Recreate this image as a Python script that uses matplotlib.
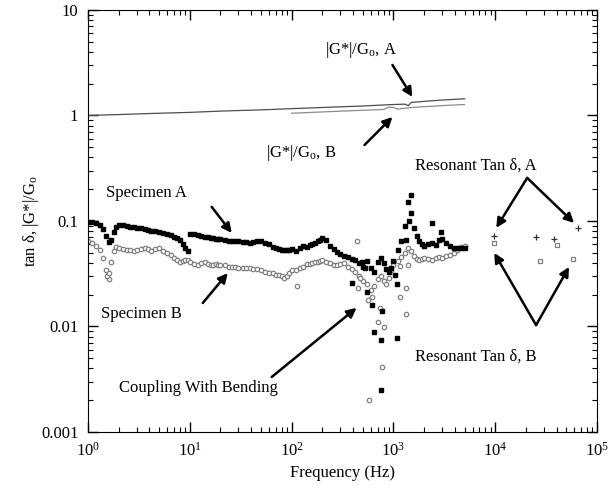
import numpy as np
import matplotlib
matplotlib.use("Agg")
import matplotlib.pyplot as plt
from matplotlib.ticker import LogLocator, NullFormatter

# police serif type Times
plt.rcParams["font.family"] = ["Liberation Serif", "DejaVu Serif"]
plt.rcParams["mathtext.fontset"] = "custom"
plt.rcParams["mathtext.rm"] = "Liberation Serif"
plt.rcParams["mathtext.it"] = "Liberation Serif:italic"
plt.rcParams["mathtext.bf"] = "Liberation Serif:bold"
plt.rcParams["font.size"] = 12

# --- donnees ---

# frequences du balayage (Hz)
freq = [1.0, 1.1, 1.2, 1.3, 1.4, 1.5, 1.6, 1.7, 1.8, 1.9, 2.0, 2.2, 2.4, 2.6, 2.8, 3.0,
        3.3, 3.6, 3.9, 4.2, 4.6, 5.0, 5.5, 6.0, 6.5, 7.0, 7.5, 8.0, 8.5, 9.0, 9.5,
        10, 11, 12, 13, 14, 15, 16, 17, 18, 19, 20, 22, 24, 26, 28, 30,
        33, 36, 39, 42, 46, 50, 55, 60, 65, 70, 75, 80, 85, 90, 95,
        100, 110, 120, 130, 140, 150, 160, 170, 180, 190, 200, 220, 240, 260, 280, 300,
        330, 360, 390, 420, 460, 500, 550, 600, 650, 700, 750, 800, 850, 900, 950,
        1000, 1100, 1200, 1300, 1400, 1500, 1600, 1700, 1800, 1900, 2000, 2200, 2400, 2600, 2800, 3000,
        3300, 3600, 3900, 4200, 4600, 5000]

# tan delta, eprouvette A
tan_a = [0.098, 0.097, 0.095, 0.091, 0.084, 0.072, 0.063, 0.066, 0.079, 0.088, 0.092, 0.091, 0.089, 0.088, 0.087, 0.086,
         0.085, 0.084, 0.083, 0.081, 0.080, 0.079, 0.077, 0.075, 0.073, 0.071, 0.069, 0.066, 0.061, 0.056, 0.052,
         0.076, 0.075, 0.073, 0.072, 0.071, 0.070, 0.069, 0.069, 0.068, 0.067, 0.067, 0.066, 0.065, 0.065, 0.064, 0.064,
         0.063, 0.063, 0.062, 0.063, 0.064, 0.065, 0.062, 0.060, 0.057, 0.055, 0.054, 0.053, 0.053, 0.053, 0.053,
         0.054, 0.052, 0.056, 0.058, 0.057, 0.059, 0.061, 0.062, 0.064, 0.066, 0.069, 0.066, 0.058, 0.054, 0.051, 0.049,
         0.047, 0.046, 0.044, 0.043, 0.040, 0.037, 0.042, 0.036, 0.033, 0.041, 0.045, 0.040, 0.035, 0.033, 0.036,
         0.042, 0.053, 0.065, 0.090, 0.150, 0.120, 0.085, 0.072, 0.064, 0.060, 0.058, 0.060, 0.062, 0.059, 0.066, 0.068,
         0.062, 0.058, 0.056, 0.055, 0.055, 0.056]

# tan delta, eprouvette B
tan_b = [0.064, 0.062, 0.058, 0.053, 0.045, 0.034, 0.028, 0.041, 0.052, 0.057, 0.056, 0.054, 0.053, 0.053, 0.052, 0.053,
         0.054, 0.055, 0.054, 0.052, 0.054, 0.055, 0.052, 0.050, 0.048, 0.045, 0.043, 0.041, 0.042, 0.043, 0.043,
         0.041, 0.039, 0.038, 0.040, 0.041, 0.039, 0.038, 0.038, 0.039, 0.038, 0.038, 0.038, 0.037, 0.037, 0.037, 0.036,
         0.036, 0.036, 0.036, 0.035, 0.035, 0.034, 0.033, 0.032, 0.032, 0.031, 0.031, 0.030, 0.029, 0.030, 0.032,
         0.034, 0.034, 0.036, 0.037, 0.039, 0.039, 0.040, 0.041, 0.041, 0.042, 0.043, 0.041, 0.040, 0.038, 0.038, 0.039,
         0.040, 0.037, 0.035, 0.033, 0.030, 0.027, 0.025, 0.022, 0.024, 0.028, 0.030, 0.027, 0.025, 0.029, 0.034,
         0.038, 0.042, 0.046, 0.050, 0.055, 0.052, 0.047, 0.044, 0.043, 0.044, 0.045, 0.044, 0.043, 0.045, 0.046, 0.045,
         0.047, 0.048, 0.050, 0.053, 0.057, 0.058]

# points disperses (couplage avec la flexion)
sc_freq_a = [396, 490, 520, 556, 610, 650, 760, 780, 760, 1030, 1090, 1090, 1340, 1435, 1500, 2420, 2950]
sc_tan_a = [0.026, 0.041, 0.036, 0.021, 0.016, 0.0089, 0.0075, 0.014, 0.0025, 0.031, 0.025, 0.0078, 0.066, 0.101, 0.175, 0.095, 0.079]

sc_freq_b = [1.55, 1.62, 114, 435, 445, 465, 560, 570, 610, 700, 730, 780, 815, 1150, 1150, 1340, 1340, 1380]
sc_tan_b = [0.030, 0.032, 0.024, 0.064, 0.023, 0.029, 0.018, 0.0020, 0.019, 0.011, 0.015, 0.0041, 0.0099, 0.019, 0.0375, 0.023, 0.013, 0.038]

# tan delta par resonance
res_freq_a = [9800, 25000, 38000, 65000]
res_tan_a = [0.072, 0.070, 0.068, 0.086]
res_freq_b = [9800, 27700, 40500, 58000]
res_tan_b = [0.062, 0.042, 0.059, 0.044]

# module normalise |G*|/Go
mod_freq_a = [1, 2, 5, 10, 20, 50, 100, 200, 500, 1000, 1300, 1400, 1500, 2000, 3000, 5000]
mod_a = [1.00, 1.02, 1.05, 1.07, 1.10, 1.13, 1.16, 1.19, 1.23, 1.27, 1.28, 1.24, 1.33, 1.36, 1.40, 1.44]
mod_freq_b = [100, 200, 500, 800, 900, 1000, 1100, 1500, 2000, 3000, 5000]
mod_b = [1.05, 1.08, 1.12, 1.14, 1.20, 1.19, 1.15, 1.19, 1.21, 1.24, 1.27]

y_ticks = [0.001, 0.01, 0.1, 1, 10]
y_tick_labels = ["0.001", "0.01", "0.1", "1", "10"]

# --- figure ---
fig = plt.figure(figsize=(6.16, 4.91), dpi=100)
ax = fig.add_axes([0.1429, 0.1202, 0.8263, 0.8595])
ax.set_xscale("log")
ax.set_yscale("log")

ax.plot(mod_freq_a, mod_a, color="0.3", lw=0.9)
ax.plot(mod_freq_b, mod_b, color="0.55", lw=0.9)

ax.plot(freq, tan_b, "o", ms=3.2, mfc="white", mec="0.5", mew=0.9, ls="none")
ax.plot(sc_freq_b, sc_tan_b, "o", ms=3.2, mfc="white", mec="0.5", mew=0.9, ls="none")
ax.plot(freq, tan_a, "s", ms=3.4, mfc="black", mec="black", ls="none")
ax.plot(sc_freq_a, sc_tan_a, "s", ms=3.4, mfc="black", mec="black", ls="none")

ax.plot(res_freq_a, res_tan_a, "+", ms=4, color="0.2", mew=0.9, ls="none")
ax.plot(res_freq_b, res_tan_b, "s", ms=3.2, mfc="white", mec="0.5", mew=0.9, ls="none")

ax.set_xlim(1, 1e5)
ax.set_ylim(0.001, 10)
ax.set_yticks(y_ticks)
ax.set_yticklabels(y_tick_labels)
ax.xaxis.set_minor_locator(LogLocator(base=10, subs=np.arange(2, 10)))
ax.yaxis.set_minor_locator(LogLocator(base=10, subs=np.arange(2, 10)))
ax.xaxis.set_minor_formatter(NullFormatter())
ax.yaxis.set_minor_formatter(NullFormatter())
ax.tick_params(which="both", direction="in", top=True, right=True, labelsize=12, pad=7)
ax.tick_params(which="major", length=7, width=1)
ax.tick_params(which="minor", length=3.5, width=0.8)

ax.set_xlabel("Frequency (Hz)", fontsize=12)
ax.set_ylabel(r"tan δ, |G*|/G$_\mathrm{o}$", fontsize=12, labelpad=0)

arrow = dict(arrowstyle="-|>", color="black", lw=1.8, mutation_scale=14, shrinkA=0, shrinkB=0)

ax.text(486, 4.18, r"|G*|/G$_\mathrm{o}$, A", ha="center", va="center")
ax.annotate("", xy=(1535, 1.50), xytext=(978, 3.01), arrowprops=arrow)
ax.text(125, 0.441, r"|G*|/G$_\mathrm{o}$, B", ha="center", va="center")
ax.annotate("", xy=(978, 0.968), xytext=(520, 0.525), arrowprops=arrow)

ax.text(3.79, 0.184, "Specimen A", ha="center", va="center")
ax.annotate("", xy=(25.8, 0.077), xytext=(16.4, 0.136), arrowprops=arrow)
ax.text(3.31, 0.0131, "Specimen B", ha="center", va="center")
ax.annotate("", xy=(23.6, 0.0321), xytext=(13.4, 0.0167), arrowprops=arrow)

ax.text(12.2, 0.00261, "Coupling With Bending", ha="center", va="center")
ax.annotate("", xy=(434, 0.0150), xytext=(63.7, 0.00332), arrowprops=arrow)

ax.text(6510, 0.332, "Resonant Tan δ, A", ha="center", va="center")
ax.annotate("", xy=(10230, 0.086), xytext=(20600, 0.256), arrowprops=arrow)
ax.annotate("", xy=(59500, 0.0957), xytext=(20600, 0.256), arrowprops=arrow)
ax.text(6510, 0.00514, "Resonant Tan δ, B", ha="center", va="center")
ax.annotate("", xy=(9780, 0.0498), xytext=(25200, 0.0103), arrowprops=arrow)
ax.annotate("", xy=(53100, 0.0367), xytext=(25200, 0.0103), arrowprops=arrow)

fig.savefig("out.png", dpi=100)
